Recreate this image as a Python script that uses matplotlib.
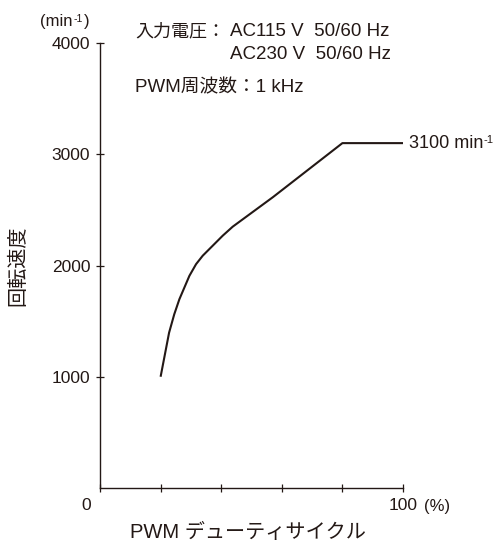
#!/usr/bin/env python3
"""PWM duty cycle vs. motor speed characteristic."""

import matplotlib

matplotlib.use("Agg")
import matplotlib.pyplot as plt
from matplotlib.transforms import ScaledTranslation

# curve
DUTY = [20, 22.8, 24.5, 26.2, 29.5, 31.7, 33.9, 37.2, 40.5, 43.8, 57.1, 80, 100]
SPEED = [1000, 1396, 1561, 1697, 1907, 2012, 2088, 2178, 2268, 2349, 2615, 3100, 3100]

X_TICKS = [0, 20, 40, 60, 80, 100]
X_TICK_LABELS = ["0", "", "", "", "", "100"]
Y_TICKS = [1000, 2000, 3000, 4000]
Y_TICK_LABELS = ["1000", "2000", "3000", "4000"]

INK = "#231815"
JP = ["Noto Sans CJK JP", "DejaVu Sans"]
LAT = ["Liberation Sans", "Noto Sans CJK JP", "DejaVu Sans"]

W, H = 496, 542

plt.rcParams.update(
    {
        "text.color": INK,
        "axes.edgecolor": INK,
        "xtick.color": INK,
        "ytick.color": INK,
    }
)

fig = plt.figure(figsize=(W / 100, H / 100), dpi=100)
ax = fig.add_axes([100 / W, 1 - 488 / H, 303 / W, 445 / H])

ax.plot(DUTY, SPEED, color=INK, linewidth=1.5, solid_capstyle="butt")

ax.set_xlim(0, 100)
ax.set_ylim(0, 4000)
for side in ("top", "right"):
    ax.spines[side].set_visible(False)
for side in ("left", "bottom"):
    ax.spines[side].set_linewidth(1.0)

ax.set_xticks(X_TICKS)
ax.set_xticklabels(X_TICK_LABELS, family=LAT, fontsize=12.5)
ax.set_yticks(Y_TICKS)
ax.set_yticklabels(Y_TICK_LABELS, family=LAT, fontsize=12.5)
ax.tick_params(direction="inout", length=6, width=0.9, pad=4)

# the "0" sits left of the origin
zero = ax.get_xticklabels()[0]
zero.set_transform(zero.get_transform() + ScaledTranslation(-14 / 100, 0, fig.dpi_scale_trans))

ax.annotate("(%)", xy=(100, 0), xytext=(34, -19), textcoords="offset pixels",
            ha="center", va="center", family=LAT, fontsize=12)

# end label with a raised "-1"
end_label = ax.annotate("3100 min", xy=(100, 3100), xytext=(6, 0),
                        textcoords="offset pixels", ha="left", va="center",
                        family=LAT, fontsize=13, annotation_clip=False)
ax.annotate("-1", xy=(1, 1), xycoords=end_label, xytext=(0, 0),
            textcoords="offset pixels", ha="left", va="top",
            family=LAT, fontsize=8, annotation_clip=False)

unit = fig.text(40 / W, 1 - 26 / H, "(min", ha="left", va="baseline",
                family=LAT, fontsize=12)
unit_sup = ax.annotate("-1", xy=(1, 1), xycoords=unit, xytext=(1, 0),
                       textcoords="offset pixels", ha="left", va="top",
                       family=LAT, fontsize=7.5, annotation_clip=False)
ax.annotate(")", xy=(1, 0), xycoords=(unit_sup, unit), xytext=(1, 0),
            textcoords="offset pixels", ha="left", va="bottom",
            family=LAT, fontsize=12, annotation_clip=False)

fig.text(135 / W, 1 - 36 / H, "入力電圧：", ha="left", va="baseline",
         family=JP, fontsize=13)
fig.text(230 / W, 1 - 36 / H, "AC115 V  50/60 Hz", ha="left", va="baseline",
         family=LAT, fontsize=13.5)
fig.text(230 / W, 1 - 59 / H, "AC230 V  50/60 Hz", ha="left", va="baseline",
         family=LAT, fontsize=13.5)
fig.text(135 / W, 1 - 92 / H, "PWM周波数：1 kHz", ha="left", va="baseline",
         family=LAT, fontsize=13.5)

fig.text(18 / W, 1 - 266 / H, "回転速度", rotation=90, ha="center", va="center",
         family=JP, fontsize=14.5)
fig.text(248 / W, 1 - 538 / H, "PWM デューティサイクル", ha="center", va="baseline",
         family=LAT, fontsize=14.5)

fig.savefig("out.png", dpi=100, facecolor="white")
